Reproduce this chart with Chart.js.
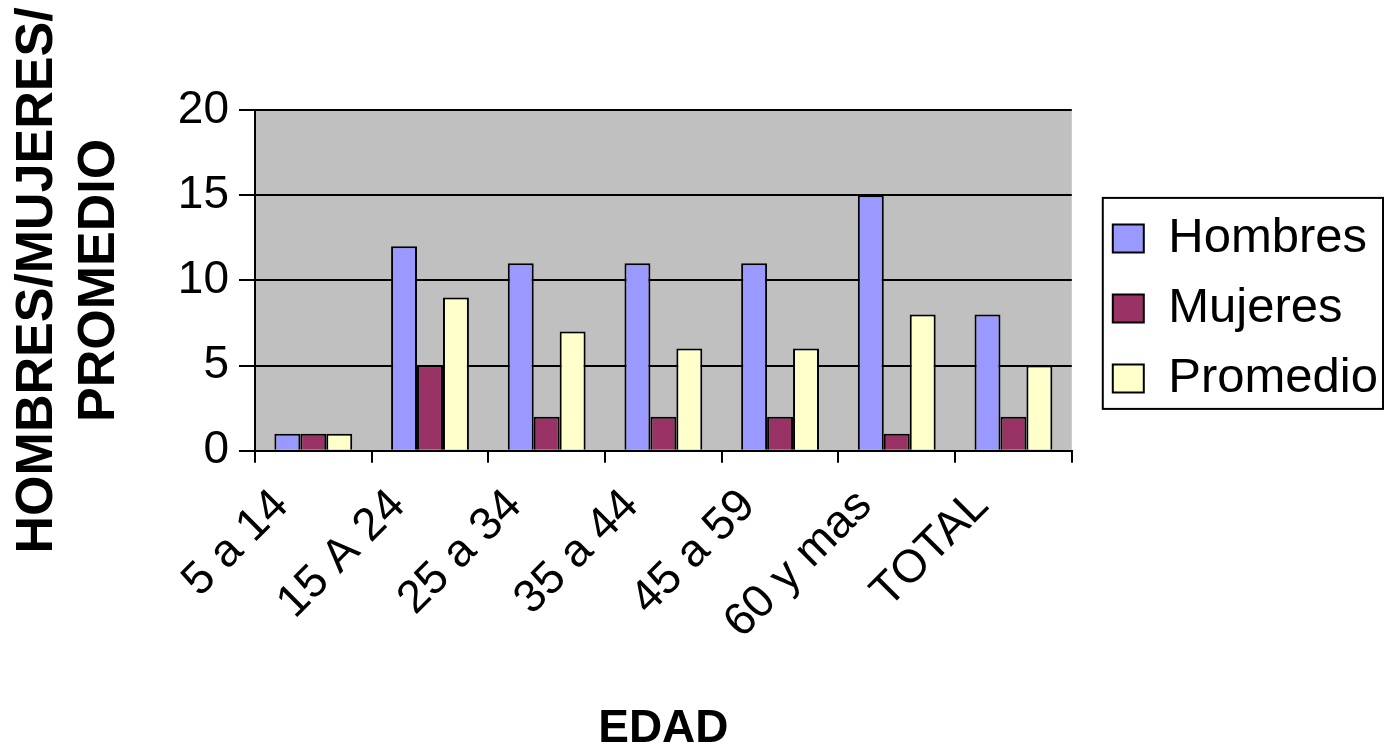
<!DOCTYPE html>
<html>
<head>
<meta charset="utf-8">
<script src="https://cdn.jsdelivr.net/npm/chart.js@4.4.1/dist/chart.umd.min.js"></script>
<style>
  html, body { margin: 0; padding: 0; background: #fff; }
  #wrap { width: 1386px; height: 747px; }
</style>
</head>
<body>
<div id="wrap"><canvas id="myChart" width="1386" height="747"></canvas></div>
<script>
// categorias de edad
var edades = ['5 a 14', '15 A 24', '25 a 34', '35 a 44', '45 a 59', '60 y mas', 'TOTAL'];
var hombres = [1, 12, 11, 11, 11, 15, 8];
var mujeres = [1, 5, 2, 2, 2, 1, 2];
var promedio = [1, 9, 7, 6, 6, 8, 5];
var yTicks = [0, 5, 10, 15, 20];

var FONT = '"Liberation Sans", Arial, sans-serif';

// fondo gris del area de trazado
var plotBg = {
    id: 'plotBg',
    beforeDraw: function(chart) {
        var ctx = chart.ctx, a = chart.chartArea;
        ctx.save();
        ctx.fillStyle = '#fff';
        ctx.fillRect(0, 0, chart.width, chart.height);
        ctx.fillStyle = '#C0C0C0';
        ctx.fillRect(a.left, a.top, a.right - a.left, a.bottom - a.top);
        ctx.restore();
    }
};

// separa la leyenda del area de trazado y le pone marco
var legendBox = {
    id: 'legendBox',
    afterLayout: function(chart) {
        var lg = chart.legend;
        lg.left += 20;
        lg.right += 20;
    },
    afterDraw: function(chart) {
        var hb = chart.legend.legendHitBoxes;
        if (!hb || !hb.length) return;
        var x0 = Infinity, y0 = Infinity, x1 = -Infinity, y1 = -Infinity;
        hb.forEach(function(b) {
            x0 = Math.min(x0, b.left); y0 = Math.min(y0, b.top);
            x1 = Math.max(x1, b.left + b.width); y1 = Math.max(y1, b.top + b.height);
        });
        var left = x0 - 10, top = y0 - 16;
        var right = Math.min(x1 + 5, chart.width - 3), bottom = y1 + 6;
        var ctx = chart.ctx;
        ctx.save();
        ctx.strokeStyle = '#000';
        ctx.lineWidth = 2;
        ctx.strokeRect(left, top, right - left, bottom - top);
        ctx.restore();
    }
};

var ctx = document.getElementById('myChart');

var myChart = new Chart(ctx, {
    type: 'bar',
    data: {
        labels: edades,
        datasets: [{
            label: 'Hombres',
            data: hombres,
            backgroundColor: '#9999FF',
            borderColor: '#000',
            borderWidth: 2
        }, {
            label: 'Mujeres',
            data: mujeres,
            backgroundColor: '#993366',
            borderColor: '#000',
            borderWidth: 2
        }, {
            label: 'Promedio',
            data: promedio,
            backgroundColor: '#FFFFCC',
            borderColor: '#000',
            borderWidth: 2
        }]
    },
    options: {
        responsive: false,
        animation: false,
        devicePixelRatio: 1,
        categoryPercentage: 0.667,
        barPercentage: 1,
        layout: {
            padding: { top: 110, right: 18, bottom: 0, left: 6 }
        },
        plugins: {
            tooltip: { enabled: false },
            legend: {
                position: 'right',
                fullSize: false,
                title: {
                    display: true,
                    text: ' ',
                    font: { family: FONT, size: 20 },
                    padding: { top: 0, bottom: 32 }
                },
                labels: {
                    color: '#000',
                    font: { family: FONT, size: 49 },
                    boxWidth: 31,
                    boxHeight: 28,
                    padding: 21,
                    useBorderRadius: false
                }
            }
        },
        scales: {
            x: {
                grid: {
                    drawOnChartArea: false,
                    drawTicks: true,
                    tickLength: 12,
                    color: '#000',
                    lineWidth: 2
                },
                border: { color: '#000', width: 2 },
                ticks: {
                    color: '#000',
                    font: { family: FONT, size: 46 },
                    minRotation: 45,
                    maxRotation: 45,
                    labelOffset: -32,
                    padding: 16
                },
                title: {
                    display: true,
                    text: 'EDAD',
                    color: '#000',
                    font: { family: FONT, size: 46, weight: 'bold' },
                    padding: { top: 36, bottom: -10 }
                }
            },
            y: {
                min: 0,
                max: 20,
                afterBuildTicks: function(axis) {
                    axis.ticks = yTicks.map(function(v) { return { value: v }; });
                },
                grid: {
                    color: '#000',
                    lineWidth: 2,
                    tickLength: 16
                },
                border: { color: '#000', width: 2 },
                ticks: {
                    color: '#000',
                    font: { family: FONT, size: 46 },
                    padding: 10
                },
                title: {
                    display: true,
                    text: ['HOMBRES/MUJERES/', 'PROMEDIO'],
                    color: '#000',
                    font: { family: FONT, size: 52, weight: 'bold', lineHeight: 1.2 },
                    padding: { top: 0, bottom: 37 }
                }
            }
        }
    },
    plugins: [plotBg, legendBox]
});
</script>
</body>
</html>
